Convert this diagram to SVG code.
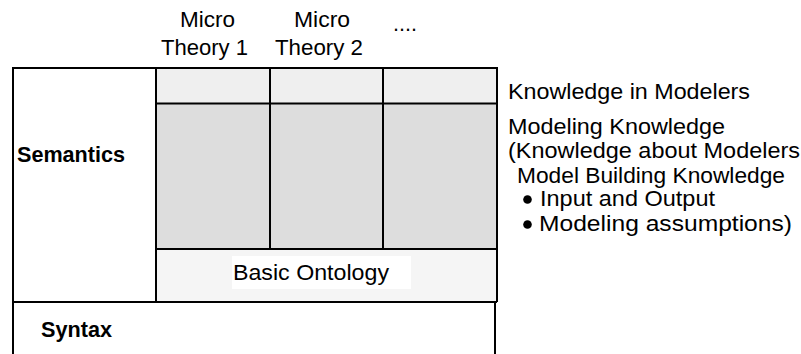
<svg xmlns="http://www.w3.org/2000/svg" width="801" height="354" viewBox="0 0 801 354">
  <style>
    .t { font-family: "Liberation Sans", Arial, sans-serif; font-size: 22px; fill: #000; }
    .b { font-weight: bold; }
    .ln { stroke: #000; stroke-width: 2; fill: none; }
  </style>
  <rect width="801" height="354" fill="#fff"/>

  <!-- column headings -->
  <g id="headings">
    <text class="t" x="180" y="27" textLength="55" lengthAdjust="spacingAndGlyphs">Micro</text>
    <text class="t" x="161" y="55" textLength="87" lengthAdjust="spacingAndGlyphs">Theory 1</text>
    <text class="t" x="294" y="27" textLength="56" lengthAdjust="spacingAndGlyphs">Micro</text>
    <text class="t" x="275" y="55" textLength="88" lengthAdjust="spacingAndGlyphs">Theory 2</text>
    <text class="t" x="393" y="31" textLength="24" lengthAdjust="spacingAndGlyphs">....</text>
  </g>

  <!-- semantics layer -->
  <g id="semantics">
    <rect x="13" y="68" width="484" height="234" fill="#fff"/>
    <text class="t b" x="17" y="162" textLength="108" lengthAdjust="spacingAndGlyphs">Semantics</text>
  </g>

  <!-- micro theory cells -->
  <g id="micro-theories">
    <rect x="156" y="68" width="341" height="35.5" fill="#efefef"/>
    <rect x="156" y="103.5" width="341" height="145.5" fill="#dddddd"/>
    <path class="ln" d="M156 103.5H497M270 68V249M383 68V249"/>
  </g>

  <!-- basic ontology -->
  <g id="basic-ontology">
    <rect x="156" y="249" width="341" height="53" fill="#f5f5f5"/>
    <rect x="232" y="256" width="179" height="33" fill="#fff"/>
    <text class="t" x="233" y="280" textLength="156" lengthAdjust="spacingAndGlyphs">Basic Ontology</text>
    <path class="ln" d="M156 68V302M156 249H497"/>
  </g>

  <!-- syntax layer -->
  <g id="syntax">
    <text class="t b" x="41" y="337" textLength="71" lengthAdjust="spacingAndGlyphs">Syntax</text>
    <path class="ln" d="M13 302H497M495 302V354"/>
  </g>

  <!-- outer frame -->
  <g id="frame">
    <path class="ln" d="M13 354V68H497V302"/>
  </g>

  <!-- knowledge annotations -->
  <g id="annotations">
    <text class="t" x="508" y="99" textLength="242" lengthAdjust="spacingAndGlyphs">Knowledge in Modelers</text>
    <text class="t" x="508" y="134" textLength="217" lengthAdjust="spacingAndGlyphs">Modeling Knowledge</text>
    <text class="t" x="508" y="158" textLength="292" lengthAdjust="spacingAndGlyphs">(Knowledge about Modelers</text>
    <text class="t" x="517" y="183" textLength="268" lengthAdjust="spacingAndGlyphs">Model Building Knowledge</text>
    <circle cx="527.5" cy="199.5" r="4.3" fill="#000"/>
    <text class="t" x="540" y="206" textLength="175" lengthAdjust="spacingAndGlyphs">Input and Output</text>
    <circle cx="527.5" cy="224.5" r="4.3" fill="#000"/>
    <text class="t" x="539" y="231" textLength="253" lengthAdjust="spacingAndGlyphs">Modeling assumptions)</text>
  </g>
</svg>
